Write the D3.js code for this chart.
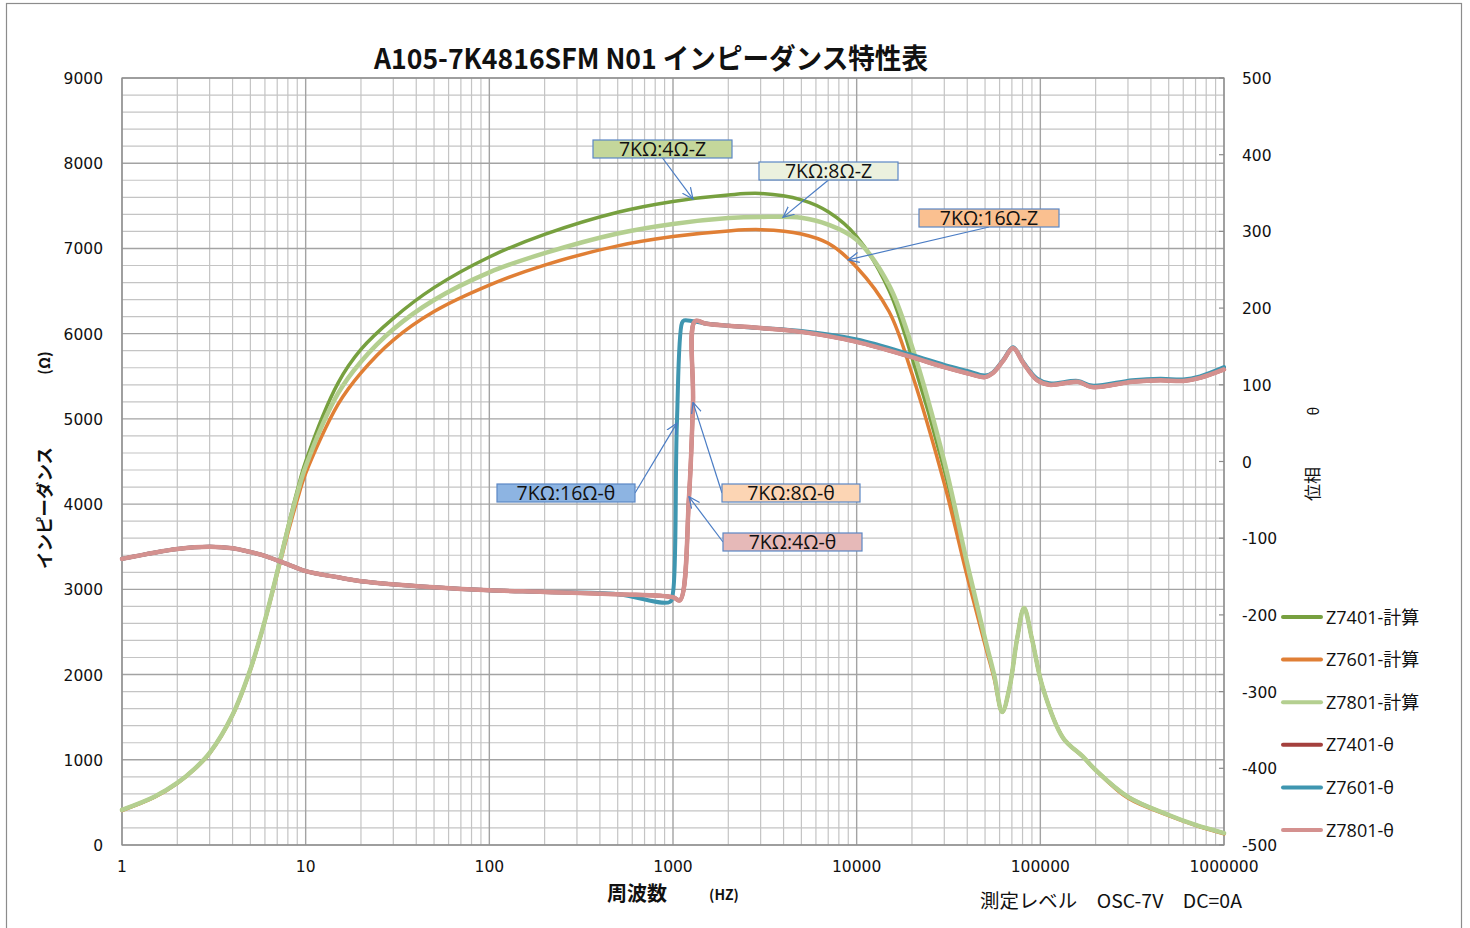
<!DOCTYPE html>
<html>
<head>
<meta charset="utf-8">
<script src="https://cdn.jsdelivr.net/npm/d3@7"></script>
<style>
  html, body { margin: 0; padding: 0; background: #fff; }
  svg { display: block; }
</style>
</head>
<body>
<svg id="chart" width="1470" height="928"></svg>
<script>
// ---- data ----
const zFreq = [1, 1.5, 2, 2.5, 3, 4, 5, 6, 7, 8, 9, 10, 15, 20, 30, 50, 100, 200, 500, 1000, 2000, 3000, 5000, 7000,
  10000, 15000, 20000, 30000, 40000, 50000, 56000, 62000, 68000, 75000, 81500, 90000,
  103000, 133000, 170000, 200000, 300000, 500000, 700000, 1000000];
const z7401 = [411, 565, 728, 900, 1080, 1528, 2062, 2635, 3210, 3730, 4160, 4500, 5420, 5815, 6180, 6540, 6900, 7165, 7425,
  7552, 7628, 7645, 7570, 7430, 7140, 6510, 5720, 4400, 3260, 2400, 1990, 1560, 1850, 2440, 2780, 2420,
  1850, 1256, 1040, 880, 565, 352, 235, 140];
const z7601 = [405, 560, 725, 895, 1075, 1522, 2055, 2630, 3180, 3660, 4050, 4360, 5170, 5540, 5925, 6260, 6570, 6805, 7030,
  7139, 7206, 7220, 7170, 7060, 6780, 6260, 5530, 4240, 3150, 2350, 1960, 1560, 1850, 2440, 2780, 2420,
  1850, 1256, 1040, 880, 550, 345, 230, 130];
const z7801 = [411, 565, 728, 900, 1080, 1528, 2062, 2635, 3201, 3709, 4123, 4442, 5298, 5671, 6052, 6395, 6720, 6944, 7175,
  7287, 7356, 7370, 7360, 7280, 7100, 6570, 5850, 4500, 3300, 2420, 2000, 1560, 1850, 2440, 2780, 2420,
  1850, 1256, 1040, 880, 565, 352, 235, 140];

// phase: 7401 / 7801 jump near 1.1-1.3 kHz, 7601 a bit earlier
const thetaFreqA = [1, 2, 3, 4, 5, 6, 7, 8, 10, 15, 20, 50, 100, 200, 500, 1000, 1090, 1222, 1285, 1318, 1500,
  2000, 3000, 5000, 10000, 20000, 30000, 40000, 50000, 55000, 63000, 71000, 81000, 96000, 112000,
  160000, 191000, 317000, 450000, 600000, 740000, 1000000];
const theta7401 = [-127, -114, -111, -113, -118, -123, -129, -134, -143, -151, -156, -164, -168, -170, -173, -177,
  -181, -46, 77, 183, 180, 177, 174, 169, 156, 136, 123, 115, 110, 115, 132, 148, 128, 106, 100,
  104, 97, 104, 106, 105, 109, 120];
const theta7801 = [-127, -114, -111, -113, -118, -123, -129, -134, -143, -151, -156, -164, -168, -170, -173, -177,
  -181, -46, 77, 183, 180, 177, 174, 169, 156, 136, 123, 115, 110, 115, 132, 148, 128, 106, 100,
  104, 97, 104, 106, 105, 109, 120];
const thetaFreqB = [1, 2, 3, 4, 5, 6, 7, 8, 10, 15, 20, 50, 100, 200, 500, 963, 1000, 1050, 1120, 1150, 1500,
  2000, 3000, 5000, 10000, 20000, 30000, 40000, 50000, 55000, 63000, 71000, 81000, 96000, 112000,
  160000, 191000, 317000, 450000, 600000, 740000, 1000000];
const theta7601 = [-127, -114, -111, -113, -118, -123, -129, -134, -143, -151, -156, -164, -168, -170, -173, -183,
  -171, 50, 181, 184, 180, 177, 174, 170, 159, 139, 126, 118, 112, 116, 133, 149, 129, 108, 102,
  105, 99, 106, 108, 107, 111, 123];

const leftTicks = [0, 1000, 2000, 3000, 4000, 5000, 6000, 7000, 8000, 9000];
const rightTicks = [-500, -400, -300, -200, -100, 0, 100, 200, 300, 400, 500];
const xTicks = [1, 10, 100, 1000, 10000, 100000, 1000000];

const series = [
  { name: 'Z7401-計算', freq: zFreq, values: z7401, axis: 'L', color: '#77a03f', width: 3.5 },
  { name: 'Z7601-計算', freq: zFreq, values: z7601, axis: 'L', color: '#e07f35', width: 3.5 },
  { name: 'Z7801-計算', freq: zFreq, values: z7801, axis: 'L', color: '#b4cf90', width: 4.5 },
  { name: 'Z7401-θ', freq: thetaFreqA, values: theta7401, axis: 'R', color: '#a4403d', width: 4 },
  { name: 'Z7601-θ', freq: thetaFreqB, values: theta7601, axis: 'R', color: '#3f96b0', width: 4 },
  { name: 'Z7801-θ', freq: thetaFreqA, values: theta7801, axis: 'R', color: '#d4918f', width: 4.5 }
];

// callouts: box in pixels, arrow points at a series at a given frequency
const callouts = [
  { text: '7KΩ:4Ω-Z',   box: [593, 140, 139, 18], fill: '#c4d79b', from: 'bottom', s: 0, f: 1285 },
  { text: '7KΩ:8Ω-Z',   box: [759, 162, 139, 18], fill: '#ebf1de', from: 'bottom', s: 2, f: 3970 },
  { text: '7KΩ:16Ω-Z',  box: [919, 209, 140, 18], fill: '#fac090', from: 'bottom', s: 1, f: 8970 },
  { text: '7KΩ:16Ω-θ',  box: [497, 484, 138, 18], fill: '#8db4e2', from: 'right', s: 4, f: 1050 },
  { text: '7KΩ:8Ω-θ',   box: [722, 484, 138, 18], fill: '#fcd5b4', from: 'left', s: 5, f: 1285 },
  { text: '7KΩ:4Ω-θ',   box: [723, 533, 139, 18], fill: '#e6b9b8', from: 'left', s: 5, f: 1222 }
];

// ---- layout ----
const svg = d3.select('#chart');
const plot = { left: 122, right: 1224, top: 78, bottom: 845 };

const x = d3.scaleLog().domain([1, 1e6]).range([plot.left, plot.right]);
const yL = d3.scaleLinear().domain([0, 9000]).range([plot.bottom, plot.top]);
const yR = d3.scaleLinear().domain([-500, 500]).range([plot.bottom, plot.top]);

const sans = '"DejaVu Sans", Verdana, sans-serif';
const jp = '"Noto Sans CJK JP", "Noto Sans", sans-serif';
const latin = '"Open Sans", "Noto Sans CJK JP", sans-serif';

// value of a series at frequency f (linear in log f)
function valueAt(s, f) {
  const lf = Math.log10(f);
  for (let i = 0; i < s.freq.length - 1; i++) {
    const a = Math.log10(s.freq[i]), b = Math.log10(s.freq[i + 1]);
    if (lf >= a && lf <= b) {
      const t = (lf - a) / (b - a);
      return s.values[i] + t * (s.values[i + 1] - s.values[i]);
    }
  }
  return s.values[s.values.length - 1];
}

// chart border
svg.append('rect')
  .attr('x', 6.5).attr('y', 3.5).attr('width', 1455).attr('height', 930)
  .attr('fill', 'none').attr('stroke', '#8c8c8c').attr('stroke-width', 1.2);

// grid
const grid = svg.append('g');
const minorY = d3.range(0, 9001, 200).filter(v => v % 1000 !== 0);
grid.selectAll('line.hmin').data(minorY).enter().append('line')
  .attr('x1', plot.left).attr('x2', plot.right)
  .attr('y1', d => yL(d)).attr('y2', d => yL(d))
  .attr('stroke', '#c4c4c4').attr('stroke-width', 1.2);

const xGrid = [];
for (let e = 0; e < 6; e++) {
  for (let k = 2; k <= 9; k++) xGrid.push(k * Math.pow(10, e));
}
grid.selectAll('line.vmin').data(xGrid).enter().append('line')
  .attr('y1', plot.top).attr('y2', plot.bottom)
  .attr('x1', d => x(d)).attr('x2', d => x(d))
  .attr('stroke', '#c4c4c4').attr('stroke-width', 1.2);

grid.selectAll('line.hmaj').data(leftTicks).enter().append('line')
  .attr('x1', plot.left).attr('x2', plot.right)
  .attr('y1', d => yL(d)).attr('y2', d => yL(d))
  .attr('stroke', '#a3a3a3').attr('stroke-width', 1.4);

grid.selectAll('line.vmaj').data(xTicks).enter().append('line')
  .attr('y1', plot.top).attr('y2', plot.bottom)
  .attr('x1', d => x(d)).attr('x2', d => x(d))
  .attr('stroke', '#a3a3a3').attr('stroke-width', 1.4);

// plot frame
svg.append('rect')
  .attr('x', plot.left).attr('y', plot.top)
  .attr('width', plot.right - plot.left).attr('height', plot.bottom - plot.top)
  .attr('fill', 'none').attr('stroke', '#8c8c8c').attr('stroke-width', 1.2);

// right axis ticks (inside)
svg.append('g').selectAll('line').data(rightTicks).enter().append('line')
  .attr('x1', plot.right - 5).attr('x2', plot.right)
  .attr('y1', d => yR(d)).attr('y2', d => yR(d))
  .attr('stroke', '#8c8c8c').attr('stroke-width', 1.2);

// tick labels
svg.append('g').selectAll('text').data(leftTicks).enter().append('text')
  .attr('x', 103).attr('y', d => yL(d) + 6)
  .attr('text-anchor', 'end')
  .style('font-family', sans).style('font-size', '15.5px').style('fill', '#111')
  .text(d => d);

svg.append('g').selectAll('text').data(rightTicks).enter().append('text')
  .attr('x', 1242).attr('y', d => yR(d) + 6)
  .attr('text-anchor', 'start')
  .style('font-family', sans).style('font-size', '15.5px').style('fill', '#111')
  .text(d => d);

svg.append('g').selectAll('text').data(xTicks).enter().append('text')
  .attr('x', d => x(d)).attr('y', 872)
  .attr('text-anchor', 'middle')
  .style('font-family', sans).style('font-size', '15.5px').style('fill', '#111')
  .text(d => d);

// series lines
const lines = svg.append('g');
series.forEach(s => {
  const yScale = s.axis === 'L' ? yL : yR;
  const pts = s.freq.map((f, i) => [x(f), yScale(s.values[i])]);
  lines.append('path')
    .attr('d', d3.line().curve(d3.curveCatmullRom.alpha(0.5))(pts))
    .attr('fill', 'none')
    .attr('stroke', s.color)
    .attr('stroke-width', s.width)
    .attr('stroke-linejoin', 'round')
    .attr('stroke-linecap', 'round');
});

// arrow marker for callouts
svg.append('defs').append('marker')
  .attr('id', 'arrow-open')
  .attr('viewBox', '0 -6 12 12')
  .attr('refX', 11).attr('refY', 0)
  .attr('markerWidth', 12).attr('markerHeight', 12)
  .attr('markerUnits', 'userSpaceOnUse')
  .attr('orient', 'auto')
  .append('path')
  .attr('d', 'M0,-5L11,0L0,5')
  .attr('fill', 'none').attr('stroke', '#4a7cc4').attr('stroke-width', 1.2);

const notes = svg.append('g');
callouts.forEach(c => {
  const [bx, by, bw, bh] = c.box;
  let sx, sy;
  if (c.from === 'bottom') { sx = bx + bw / 2; sy = by + bh; }
  else if (c.from === 'right') { sx = bx + bw; sy = by + bh / 2; }
  else { sx = bx; sy = by + bh / 2; }
  const s = series[c.s];
  const tx = x(c.f);
  const ty = (s.axis === 'L' ? yL : yR)(valueAt(s, c.f));
  notes.append('line')
    .attr('x1', sx).attr('y1', sy).attr('x2', tx).attr('y2', ty)
    .attr('stroke', '#4a7cc4').attr('stroke-width', 1.2)
    .attr('marker-end', 'url(#arrow-open)');
  notes.append('rect')
    .attr('x', bx).attr('y', by).attr('width', bw).attr('height', bh)
    .attr('fill', c.fill).attr('stroke', '#5b87c5').attr('stroke-width', 1.2);
  notes.append('text')
    .attr('x', bx + bw / 2).attr('y', by + bh / 2 + 7)
    .attr('text-anchor', 'middle')
    .style('font-family', latin).style('font-size', '19.5px').style('fill', '#111')
    .text(c.text);
});

// legend
const legend = svg.append('g');
series.forEach((s, i) => {
  const ly = 617 + i * 42.6;
  legend.append('line')
    .attr('x1', 1283).attr('x2', 1321).attr('y1', ly).attr('y2', ly)
    .attr('stroke', s.color).attr('stroke-width', 4).attr('stroke-linecap', 'round');
  legend.append('text')
    .attr('x', 1326).attr('y', ly + 6.5)
    .style('font-family', latin).style('font-size', '18px').style('fill', '#111')
    .text(s.name);
});

// title
svg.append('text')
  .attr('x', 651).attr('y', 69)
  .attr('text-anchor', 'middle')
  .attr('textLength', 554).attr('lengthAdjust', 'spacingAndGlyphs')
  .style('font-family', jp).style('font-size', '28px').style('font-weight', 'bold').style('fill', '#111')
  .text('A105-7K4816SFM N01 インピーダンス特性表');

// axis titles
svg.append('text')
  .attr('transform', 'translate(51,508) rotate(-90)')
  .attr('text-anchor', 'middle')
  .style('font-family', jp).style('font-size', '17.5px').style('font-weight', 'bold').style('fill', '#111')
  .text('インピーダンス');
svg.append('text')
  .attr('transform', 'translate(50,363) rotate(-90)')
  .attr('text-anchor', 'middle')
  .style('font-family', jp).style('font-size', '15px').style('font-weight', 'bold').style('fill', '#111')
  .text('(Ω)');

svg.append('text')
  .attr('transform', 'translate(1319,484) rotate(-90)')
  .attr('text-anchor', 'middle')
  .style('font-family', jp).style('font-size', '17px').style('fill', '#111')
  .text('位相');
svg.append('text')
  .attr('transform', 'translate(1319,411) rotate(-90)')
  .attr('text-anchor', 'middle')
  .style('font-family', jp).style('font-size', '15px').style('fill', '#111')
  .text('θ');

svg.append('text')
  .attr('x', 637).attr('y', 901)
  .attr('text-anchor', 'middle')
  .style('font-family', jp).style('font-size', '20px').style('font-weight', 'bold').style('fill', '#111')
  .text('周波数');
svg.append('text')
  .attr('x', 724).attr('y', 900)
  .attr('text-anchor', 'middle')
  .style('font-family', jp).style('font-size', '14px').style('font-weight', 'bold').style('fill', '#111')
  .text('(HZ)');

svg.append('text')
  .attr('x', 980).attr('y', 908)
  .attr('textLength', 262).attr('lengthAdjust', 'spacingAndGlyphs')
  .style('font-family', jp).style('font-size', '19px').style('fill', '#111')
  .text('測定レベル　OSC-7V　DC=0A');
</script>
</body>
</html>
